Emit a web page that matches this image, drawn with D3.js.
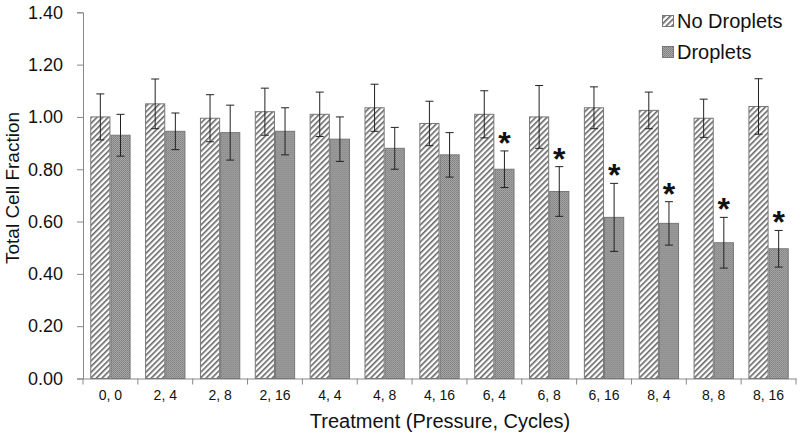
<!DOCTYPE html>
<html>
<head>
<meta charset="utf-8">
<script src="https://cdn.jsdelivr.net/npm/d3@7"></script>
<style>
  body { margin: 0; background: #fff; }
  text { font-family: "Liberation Sans", Arial, sans-serif; fill: #111; }
</style>
</head>
<body>
<svg id="chart" width="800" height="436"></svg>
<script>
// data
const categories = ["0, 0", "2, 4", "2, 8", "2, 16", "4, 4", "4, 8", "4, 16",
  "6, 4", "6, 8", "6, 16", "8, 4", "8, 8", "8, 16"];
const noDroplets = [1.00, 1.05, 0.995, 1.02, 1.01, 1.035, 0.975, 1.01, 1.00, 1.035, 1.025, 0.995, 1.04];
const noDropletsErr = [0.088, 0.095, 0.09, 0.09, 0.085, 0.09, 0.085, 0.09, 0.12, 0.08, 0.07, 0.073, 0.106];
const droplets = [0.93, 0.945, 0.94, 0.945, 0.915, 0.88, 0.855, 0.80, 0.715, 0.616, 0.593, 0.519, 0.496];
const dropletsErr = [0.08, 0.07, 0.105, 0.09, 0.085, 0.08, 0.085, 0.07, 0.095, 0.13, 0.083, 0.097, 0.07];
const significant = [false, false, false, false, false, false, false, true, true, true, true, true, true];
const yTicks = [0, 0.2, 0.4, 0.6, 0.8, 1.0, 1.2, 1.4];
const seriesNames = ["No Droplets", "Droplets"];

const svg = d3.select("#chart");
const margin = { left: 83, right: 4, top: 12, bottom: 57 };
const width = 800, height = 436;

const x = d3.scaleBand()
  .domain(categories)
  .range([margin.left, width - margin.right])
  .paddingInner(0).paddingOuter(0);

const x1 = d3.scaleBand()
  .domain(seriesNames)
  .range([0, x.bandwidth()])
  .paddingInner(0)
  .paddingOuter(0.36);

const y = d3.scaleLinear()
  .domain([0, 1.4])
  .range([height - margin.bottom - 0.5, margin.top + 0.3]);

// patterns
const defs = svg.append("defs");
const hatch = defs.append("pattern")
  .attr("id", "hatch")
  .attr("patternUnits", "userSpaceOnUse")
  .attr("width", 4).attr("height", 4)
  .attr("patternTransform", "rotate(45)");
hatch.append("rect").attr("width", 4).attr("height", 4).attr("fill", "#fff");
hatch.append("rect").attr("width", 1.6).attr("height", 4).attr("fill", "#666");

const dots = defs.append("pattern")
  .attr("id", "dots")
  .attr("patternUnits", "userSpaceOnUse")
  .attr("width", 2).attr("height", 2);
dots.append("rect").attr("width", 2).attr("height", 2).attr("fill", "#a8a8a8");
dots.append("rect").attr("width", 1).attr("height", 1).attr("fill", "#7a7a7a");
dots.append("rect").attr("x", 1).attr("y", 1).attr("width", 1).attr("height", 1).attr("fill", "#8a8a8a");

const fills = { "No Droplets": "url(#hatch)", "Droplets": "url(#dots)" };

// axes
const yAxis = svg.append("g")
  .attr("transform", `translate(${margin.left},0)`)
  .call(d3.axisLeft(y).tickValues(yTicks).tickFormat(d3.format(".2f")).tickSize(6).tickPadding(14));
yAxis.select(".domain").attr("stroke", "#888");
yAxis.selectAll(".tick line").attr("stroke", "#888");
yAxis.selectAll(".tick text").attr("font-size", 18).attr("fill", "#111");

const xAxis = svg.append("g")
  .attr("transform", `translate(0,${y(0)})`)
  .call(d3.axisBottom(x).tickSize(0).tickPadding(12));
xAxis.select(".domain").attr("stroke", "#888");
xAxis.selectAll(".tick text").attr("font-size", 14).attr("fill", "#111");
xAxis.selectAll(".sep")
  .data(categories.concat(["end"]))
  .join("line")
  .attr("class", "sep")
  .attr("x1", (d, i) => margin.left + i * x.step())
  .attr("x2", (d, i) => margin.left + i * x.step())
  .attr("y1", 0).attr("y2", 6)
  .attr("stroke", "#888");

// bars
const rows = categories.map((c, i) => ({
  cat: c,
  values: [
    { name: "No Droplets", v: noDroplets[i], e: noDropletsErr[i], star: false },
    { name: "Droplets", v: droplets[i], e: dropletsErr[i], star: significant[i] }
  ]
}));

const groups = svg.append("g").selectAll("g")
  .data(rows)
  .join("g")
  .attr("transform", d => `translate(${x(d.cat)},0)`);

const bars = groups.selectAll("g")
  .data(d => d.values)
  .join("g");

bars.append("rect")
  .attr("x", d => x1(d.name) + 0.5)
  .attr("y", d => y(d.v))
  .attr("width", x1.bandwidth() - 1)
  .attr("height", d => y(0) - y(d.v))
  .attr("fill", d => fills[d.name])
  .attr("stroke", "#777")
  .attr("stroke-width", 1);

// error bars
const cx = d => x1(d.name) + x1.bandwidth() / 2;
bars.append("line")
  .attr("x1", cx).attr("x2", cx)
  .attr("y1", d => y(d.v - d.e)).attr("y2", d => y(d.v + d.e))
  .attr("stroke", "#222").attr("stroke-width", 1);
bars.append("line")
  .attr("x1", d => cx(d) - 4).attr("x2", d => cx(d) + 4)
  .attr("y1", d => y(d.v + d.e)).attr("y2", d => y(d.v + d.e))
  .attr("stroke", "#222").attr("stroke-width", 1);
bars.append("line")
  .attr("x1", d => cx(d) - 4).attr("x2", d => cx(d) + 4)
  .attr("y1", d => y(d.v - d.e)).attr("y2", d => y(d.v - d.e))
  .attr("stroke", "#222").attr("stroke-width", 1);

// significance asterisks
bars.filter(d => d.star)
  .append("text")
  .attr("x", cx)
  .attr("y", d => y(d.v + d.e) + 3)
  .attr("text-anchor", "middle")
  .attr("font-size", 32)
  .attr("font-weight", "bold")
  .text("*");

// axis titles
svg.append("text")
  .attr("x", 440).attr("y", 428)
  .attr("text-anchor", "middle")
  .attr("font-size", 20)
  .text("Treatment (Pressure, Cycles)");

svg.append("text")
  .attr("transform", "translate(19,188) rotate(-90)")
  .attr("text-anchor", "middle")
  .attr("font-size", 19)
  .text("Total Cell Fraction");

// legend
const legend = svg.append("g").attr("transform", "translate(662,12)");
const li = legend.selectAll("g")
  .data(seriesNames)
  .join("g")
  .attr("transform", (d, i) => `translate(0,${i * 31})`);
li.append("rect")
  .attr("x", 0.5).attr("y", 3.5)
  .attr("width", 11).attr("height", 11)
  .attr("fill", d => fills[d])
  .attr("stroke", "#777");
li.append("text")
  .attr("x", 15).attr("y", 16)
  .attr("font-size", 20)
  .text(d => d);
</script>
</body>
</html>
